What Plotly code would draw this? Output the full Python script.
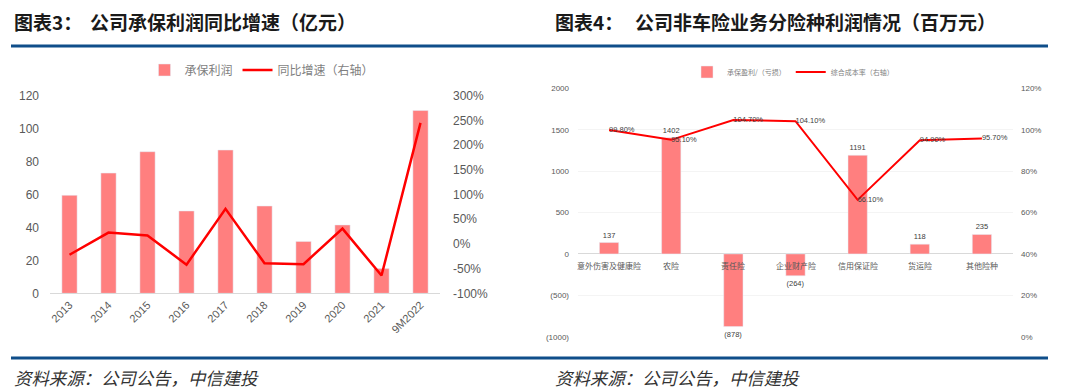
import plotly.graph_objects as go

W, H = 1080, 391
OX, OY = 8, 8  # page body margin compensation

# ---------- Chart 3 data ----------
years = ["2013", "2014", "2015", "2016", "2017", "2018", "2019", "2020", "2021", "9M2022"]
uw_profit = [59.5, 73, 86, 50, 87, 53, 31.5, 41.5, 15, 111]
yoy_growth = [-22, 23, 17, -42, 71, -39, -41, 31, -64, 245]
left_ticks1 = [0, 20, 40, 60, 80, 100, 120]
right_ticks1 = [-100, -50, 0, 50, 100, 150, 200, 250, 300]

# ---------- Chart 4 data ----------
lines_cat = ["意外伤害及健康险", "农险", "责任险", "企业财产险", "信用保证险", "货运险", "其他险种"]
lines_profit = [137, 1402, -878, -264, 1191, 118, 235]
combined_ratio = [99.8, 95.1, 104.7, 104.1, 66.1, 94.9, 95.7]
left_tickvals2 = [-1000, -500, 0, 500, 1000, 1500, 2000]
left_ticktext2 = ["(1000)", "(500)", "0", "500", "1000", "1500", "2000"]
right_ticks2 = [0, 20, 40, 60, 80, 100, 120]

BAR = "#ff7f7f"
LINE = "#ff0000"
TICK = "#595959"
NUM_FONT = "Liberation Sans"
CJK = "Noto Sans CJK SC"

def px_x(x):
    return (x - OX) / W

def px_y(y):
    return (H - (y - OY)) / H

def fmt_profit(v):
    return f"({abs(v)})" if v < 0 else f"{v}"

fig = go.Figure()

# Chart 3
fig.add_trace(go.Bar(
    x=years, y=uw_profit, name="承保利润", marker_color=BAR, width=0.39,
    xaxis="x", yaxis="y", legend="legend",
))
fig.add_trace(go.Scatter(
    x=years, y=yoy_growth, name="同比增速（右轴）", mode="lines",
    line=dict(color=LINE, width=2.5), xaxis="x", yaxis="y2", legend="legend",
))

# Chart 4
fig.add_trace(go.Bar(
    x=lines_cat, y=lines_profit, name="承保盈利/（亏损）", marker_color=BAR, width=0.31,
    text=[fmt_profit(v) for v in lines_profit], textposition="outside",
    textfont=dict(size=7.5, color="#404040", family=NUM_FONT), cliponaxis=False,
    xaxis="x3", yaxis="y3", legend="legend2",
))
fig.add_trace(go.Scatter(
    x=lines_cat, y=combined_ratio, name="综合成本率（右轴）", mode="lines+text",
    text=[f"{v:.2f}%" for v in combined_ratio], textposition="middle right",
    textfont=dict(size=7.5, color="#404040", family=NUM_FONT),
    line=dict(color=LINE, width=2), xaxis="x3", yaxis="y4", legend="legend2",
    cliponaxis=False,
))

# category labels for chart 4 placed at the zero line
for c in lines_cat:
    fig.add_annotation(
        x=c, y=0, xref="x3", yref="y3", text=c, showarrow=False,
        yanchor="top", yshift=-4, font=dict(size=8, color=TICK, family=CJK),
    )

d1x = [px_x(50), px_x(440)]
d1y = [px_y(293.3), px_y(95.7)]
d2x = [px_x(578), px_x(1013)]
d2y = [px_y(336.7), px_y(88.3)]

fig.update_layout(
    width=W, height=H,
    margin=dict(l=0, r=0, t=0, b=0, pad=0, autoexpand=False),
    paper_bgcolor="white", plot_bgcolor="white",
    font=dict(family=NUM_FONT, color=TICK),
    xaxis=dict(domain=d1x, anchor="y", type="category", range=[-0.5, 9.5], automargin=False,
               showline=True, linecolor="#d9d9d9", linewidth=1, ticks="",
               tickangle=-45, tickfont=dict(size=11, color=TICK), showgrid=False),
    yaxis=dict(domain=d1y, anchor="x", range=[0, 120], tickvals=left_ticks1, automargin=False,
               showgrid=False, zeroline=False, tickfont=dict(size=12, color=TICK),
               ticks="", ticklabelstandoff=10),
    yaxis2=dict(overlaying="y", side="right", anchor="x", range=[-100, 300], automargin=False,
                tickvals=right_ticks1, ticktext=[f"{v}%" for v in right_ticks1],
                showgrid=False, zeroline=False,
                tickfont=dict(size=12, color=TICK), ticks="", ticklabelstandoff=12),
    xaxis3=dict(domain=d2x, anchor="y3", type="category", range=[-0.5, 6.5], automargin=False,
                showticklabels=False, showline=False, ticks="", showgrid=False),
    yaxis3=dict(domain=d2y, anchor="x3", range=[-1000, 2000], tickvals=left_tickvals2,
                ticktext=left_ticktext2, showgrid=True, gridcolor="#f4f4f4", automargin=False,
                zeroline=True, zerolinecolor="#d9d9d9", zerolinewidth=1,
                tickfont=dict(size=8, color=TICK), ticks="", ticklabelstandoff=8),
    yaxis4=dict(overlaying="y3", side="right", anchor="x3", range=[0, 120], automargin=False,
                tickvals=right_ticks2, ticktext=[f"{v}%" for v in right_ticks2],
                showgrid=False, zeroline=False,
                tickfont=dict(size=8, color=TICK), ticks="", ticklabelstandoff=7),
    legend=dict(orientation="h", x=px_x(262), y=px_y(70), xanchor="center", yanchor="middle",
                font=dict(size=12, color="#7f7f7f", family=CJK), bgcolor="rgba(0,0,0,0)",
                itemwidth=30),
    legend2=dict(orientation="h", x=px_x(793), y=px_y(72), xanchor="center", yanchor="middle",
                 font=dict(size=7, color="#7f7f7f", family=CJK), bgcolor="rgba(0,0,0,0)",
                 itemwidth=30),
    showlegend=True,
)

# Titles
TITLE_FONT = dict(size=19, color="#1a1a1a", family=CJK)
for tx, txt in ((12, "<b>图表3：</b>"), (88, "<b>公司承保利润同比增速（亿元）</b>"),
                (553, "<b>图表4：</b>"), (633, "<b>公司非车险业务分险种利润情况（百万元）</b>")):
    fig.add_annotation(x=px_x(tx), y=px_y(21), xref="paper", yref="paper", xanchor="left",
                       yanchor="middle", showarrow=False, text=txt, font=TITLE_FONT)

# Sources
for sx in (12, 553):
    fig.add_annotation(x=px_x(sx), y=px_y(377), xref="paper", yref="paper", xanchor="left",
                       yanchor="middle", showarrow=False,
                       text="<i>资料来源：公司公告，中信建投</i>",
                       font=dict(size=17.4, color="#333333", family=CJK))

# Blue rules
for yy in (46, 358):
    fig.add_shape(type="line", xref="paper", yref="paper",
                  x0=px_x(11), x1=px_x(1048), y0=px_y(yy), y1=px_y(yy),
                  line=dict(color="#0f4e8a", width=3))

fig.write_html("out.html")
